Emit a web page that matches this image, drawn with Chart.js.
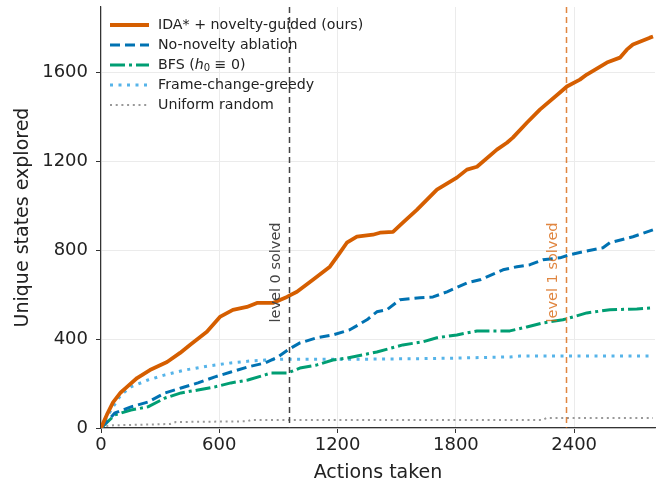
<!DOCTYPE html>
<html>
<head>
<meta charset="utf-8">
<script src="https://cdn.jsdelivr.net/npm/chart.js@4.4.1/dist/chart.umd.min.js"></script>
<style>
  html, body { margin: 0; padding: 0; background: #fff; }
  canvas { display: block; }
</style>
</head>
<body>
<canvas id="c" width="667" height="486"></canvas>
<script>
// series as [actions, unique states]
const idaPts = [[0,0],[30,60],[61,115],[100,160],[132,185],[183,225],[248,261],[335,297],[401,338],[451,374],[537,433],[603,500],[669,532],[740,545],[791,563],[872,563],[943,590],[994,613],[1075,667],[1161,726],[1212,789],[1247,834],[1298,861],[1379,870],[1415,879],[1481,883],[1531,924],[1602,982],[1704,1073],[1805,1127],[1856,1163],[1907,1176],[2008,1253],[2059,1284],[2089,1307],[2160,1374],[2226,1433],[2328,1510],[2363,1537],[2429,1568],[2464,1591],[2566,1645],[2632,1667],[2667,1703],[2698,1726],[2784,1757],[2800,1762]];
const noNoveltyPts = [[0,0],[71,68],[152,95],[238,117],[325,158],[406,180],[492,203],[578,230],[659,252],[745,275],[832,293],[898,320],[948,352],[1009,383],[1095,406],[1176,419],[1262,442],[1349,487],[1399,523],[1450,532],[1516,577],[1618,586],[1684,590],[1755,613],[1856,653],[1922,667],[2039,712],[2110,726],[2176,735],[2241,757],[2328,766],[2378,780],[2444,793],[2546,811],[2581,834],[2698,861],[2800,892]];
const bfsPts = [[0,0],[71,59],[152,81],[238,95],[325,135],[406,158],[492,171],[578,185],[659,203],[745,216],[832,239],[862,248],[948,248],[1009,270],[1095,284],[1176,306],[1247,315],[1399,342],[1531,374],[1633,388],[1704,406],[1805,419],[1907,437],[2074,437],[2160,455],[2241,473],[2343,487],[2394,500],[2464,518],[2581,532],[2718,536],[2800,541]];
const frameGreedyPts = [[0,0],[51,81],[101,149],[152,185],[238,216],[325,239],[426,261],[543,279],[659,293],[761,302],[832,306],[933,310],[1364,310],[1618,312],[1820,315],[2074,320],[2125,324],[2800,324]];
const randomPts = [[0,0],[20,8],[60,12],[350,18],[380,27],[740,30],[760,36],[2240,36],[2260,45],[2800,45]];

const seriesLabels = ['IDA* + novelty-guided (ours)', 'No-novelty ablation', 'BFS (h\u2080 \u2261 0)', 'Frame-change-greedy', 'Uniform random'];
const xTicks = [0, 600, 1200, 1800, 2400];
const yTicks = [0, 400, 800, 1200, 1600];
const markerX = [953, 2358];
const markerLabels = ['level 0 solved', 'level 1 solved'];

const FONT = '"DejaVu Sans", sans-serif';

// legend label pieces (BFS one has italic h with subscript)
const legendParts = [
  [{ t: seriesLabels[0] }],
  [{ t: seriesLabels[1] }],
  [{ t: 'BFS (' }, { t: 'h', it: true }, { t: '0', sub: true }, { t: ' \u2261 0)' }],
  [{ t: seriesLabels[3] }],
  [{ t: seriesLabels[4] }]
];

const toXY = pts => pts.map(p => ({ x: p[0], y: p[1] }));

const inLegend = {
  id: 'inLegend',
  afterDraw(chart) {
    const ctx = chart.ctx;
    chart.data.datasets.forEach((ds, i) => {
      const y = 25 + i * 20;
      ctx.save();
      ctx.strokeStyle = ds.borderColor;
      ctx.lineWidth = ds.borderWidth;
      ctx.lineCap = 'butt';
      ctx.setLineDash(ds.borderDash || []);
      ctx.beginPath(); ctx.moveTo(110, y); ctx.lineTo(149, y); ctx.stroke();
      ctx.setLineDash([]);
      ctx.fillStyle = '#222';
      ctx.textBaseline = 'middle';
      let x = 158;
      legendParts[i].forEach(p => {
        const size = p.sub ? 10 : 14.2;
        ctx.font = (p.it ? 'italic ' : '') + size + 'px ' + FONT;
        ctx.fillText(p.t, x, p.sub ? y + 3.5 : y);
        x += ctx.measureText(p.t).width;
      });
      ctx.restore();
    });
  }
};

const markers = {
  id: 'markers',
  afterDatasetsDraw(chart) {
    const { ctx, chartArea, scales } = chart;
    const colors = ['#444444', 'rgba(213,94,0,0.75)'];
    markerX.forEach((mx, i) => {
      const px = Math.round(scales.x.getPixelForValue(mx)) + 0.5;
      ctx.save();
      ctx.strokeStyle = colors[i];
      ctx.lineWidth = 1.5;
      ctx.setLineDash([6, 4]);
      ctx.beginPath(); ctx.moveTo(px, chartArea.top); ctx.lineTo(px, chartArea.bottom); ctx.stroke();
      ctx.setLineDash([]);
      ctx.translate(px - 13, scales.y.getPixelForValue(700));
      ctx.rotate(-Math.PI / 2);
      ctx.font = '14.5px ' + FONT;
      ctx.fillStyle = colors[i];
      ctx.textAlign = 'center';
      ctx.textBaseline = 'middle';
      ctx.fillText(markerLabels[i], 0, 0);
      ctx.restore();
    });
  }
};

const mk = (pts, label, color, width, dash) => ({
  label, data: toXY(pts), borderColor: color, backgroundColor: color,
  borderWidth: width, borderDash: dash, pointRadius: 0, tension: 0, fill: false,
  borderCapStyle: 'butt', borderJoinStyle: 'round'
});

const tickFont = { family: FONT, size: 18 };
const titleFont = { family: FONT, size: 19 };

new Chart(document.getElementById('c'), {
  type: 'line',
  data: {
    datasets: [
      mk(idaPts, seriesLabels[0], '#D55E00', 3.8, []),
      mk(noNoveltyPts, seriesLabels[1], '#0072B2', 3, [10, 5]),
      mk(bfsPts, seriesLabels[2], '#009E73', 3, [15, 4, 3, 4]),
      mk(frameGreedyPts, seriesLabels[3], '#56B4E9', 3, [3, 5.5]),
      mk(randomPts, seriesLabels[4], '#999999', 2, [2, 3.7])
    ]
  },
  options: {
    responsive: false,
    animation: false,
    devicePixelRatio: 1,
    layout: { padding: { top: 7, right: 12, left: 0, bottom: 0 } },
    plugins: { legend: { display: false }, tooltip: { enabled: false } },
    scales: {
      x: {
        type: 'linear', min: 0, max: 2810,
        afterBuildTicks: s => { s.ticks = xTicks.map(v => ({ value: v })); },
        afterFit: s => { s.height = 58; s.paddingLeft = 0; s.paddingRight = 0; },
        ticks: { font: tickFont, color: '#222', padding: 2, maxRotation: 0, callback: v => String(v) },
        grid: { color: '#ebebeb', lineWidth: 1, tickLength: 5, tickColor: '#333' },
        border: { display: true, color: '#333', width: 1.2 },
        title: { display: true, text: 'Actions taken', font: titleFont, color: '#222', padding: { top: 0, bottom: 2 } }
      },
      y: {
        type: 'linear', min: 0, max: 1895,
        afterBuildTicks: s => { s.ticks = yTicks.map(v => ({ value: v })); },
        afterFit: s => { s.width = 101; s.paddingTop = 0; s.paddingBottom = 0; },
        ticks: { font: tickFont, color: '#222', padding: 8, callback: v => String(v) },
        grid: { color: '#ebebeb', lineWidth: 1, tickLength: 5, tickColor: '#333' },
        border: { display: true, color: '#333', width: 1.2 },
        title: { display: true, text: 'Unique states explored', font: titleFont, color: '#222', padding: { top: 12, bottom: 4 } }
      }
    }
  },
  plugins: [markers, inLegend]
});
</script>
</body>
</html>
